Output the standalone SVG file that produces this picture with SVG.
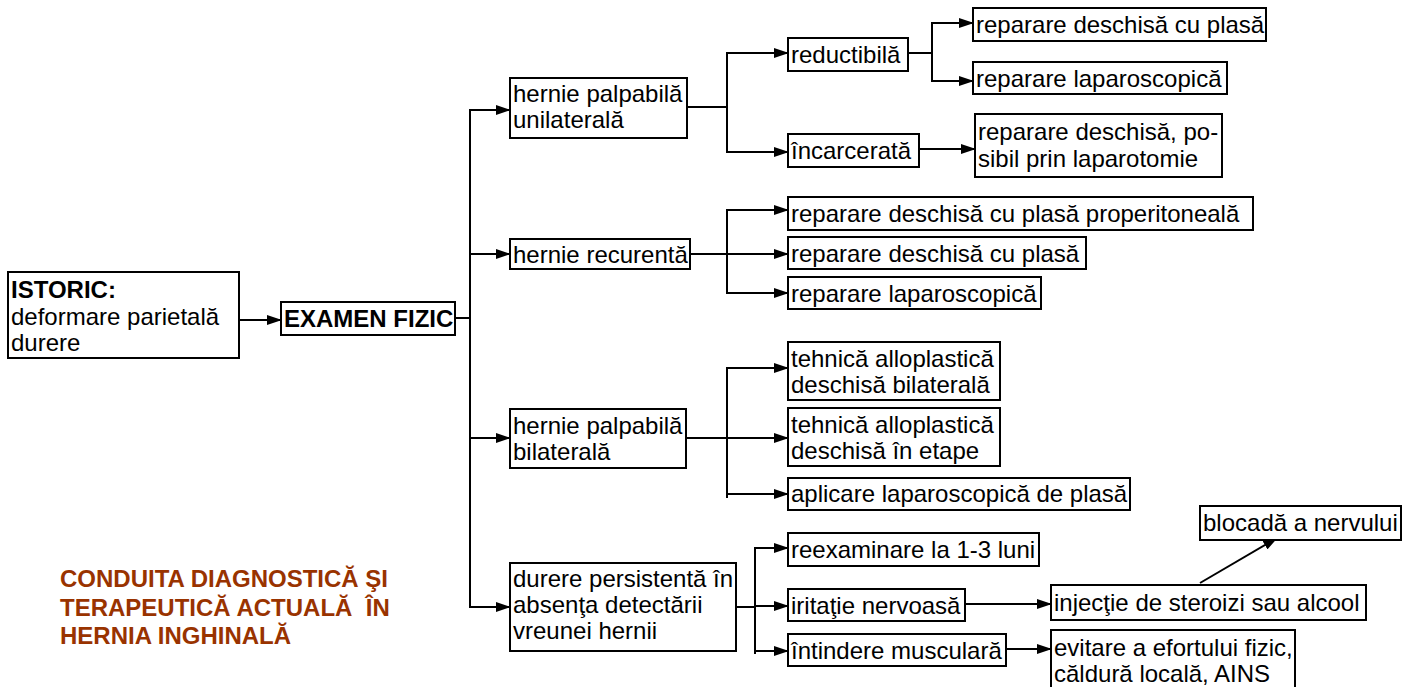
<svg xmlns="http://www.w3.org/2000/svg" width="1417" height="687" viewBox="0 0 1417 687">
  <defs>
    <marker id="arr" markerUnits="userSpaceOnUse" markerWidth="15" markerHeight="10" refX="14" refY="5" orient="auto">
      <path d="M0,0 L15,5 L0,10 z" fill="#000"/>
    </marker>
    <style>
      .box { fill: #fff; stroke: #000; stroke-width: 2; }
      .t { font-family: "Liberation Sans", Arial, sans-serif; font-size: 24px; fill: #000; }
      .b { font-weight: bold; }
      .title { font-family: "Liberation Sans", Arial, sans-serif; font-size: 24px; font-weight: bold; fill: #993300; }
      .ln { fill: none; stroke: #000; stroke-width: 2; }
      .ar { fill: none; stroke: #000; stroke-width: 2; marker-end: url(#arr); }
    </style>
  </defs>
  <rect width="1417" height="687" fill="#fff"/>

  <!-- connectors -->
  <g id="connectors">
    <line class="ar" x1="239" y1="320" x2="281" y2="320"/>
    <polyline class="ln" points="455,318 470,318"/>
    <line class="ln" x1="470" y1="109" x2="470" y2="608"/>
    <line class="ar" x1="470" y1="110" x2="510" y2="110"/>
    <line class="ar" x1="470" y1="254" x2="510" y2="254"/>
    <line class="ar" x1="470" y1="438" x2="510" y2="438"/>
    <line class="ar" x1="470" y1="607" x2="510" y2="607"/>

    <!-- unilateral -->
    <line class="ln" x1="687" y1="107" x2="727" y2="107"/>
    <line class="ln" x1="727" y1="52" x2="727" y2="153"/>
    <line class="ar" x1="727" y1="53" x2="788" y2="53"/>
    <line class="ar" x1="727" y1="152" x2="788" y2="152"/>
    <line class="ln" x1="908" y1="53" x2="932" y2="53"/>
    <line class="ln" x1="932" y1="22" x2="932" y2="82"/>
    <line class="ar" x1="932" y1="23" x2="973" y2="23"/>
    <line class="ar" x1="932" y1="81" x2="973" y2="81"/>
    <line class="ar" x1="919" y1="149" x2="975" y2="149"/>

    <!-- recurrent -->
    <line class="ln" x1="690" y1="254" x2="727" y2="254"/>
    <line class="ln" x1="727" y1="209" x2="727" y2="294"/>
    <line class="ar" x1="727" y1="210" x2="788" y2="210"/>
    <line class="ar" x1="727" y1="254" x2="788" y2="254"/>
    <line class="ar" x1="727" y1="293" x2="788" y2="293"/>

    <!-- bilateral -->
    <line class="ln" x1="686" y1="438" x2="727" y2="438"/>
    <line class="ln" x1="727" y1="367" x2="727" y2="498"/>
    <line class="ar" x1="727" y1="368" x2="788" y2="368"/>
    <line class="ar" x1="727" y1="438" x2="788" y2="438"/>
    <line class="ar" x1="727" y1="494" x2="788" y2="494"/>

    <!-- persistent pain -->
    <line class="ln" x1="736" y1="607" x2="755" y2="607"/>
    <line class="ln" x1="755" y1="547" x2="755" y2="654"/>
    <line class="ar" x1="755" y1="548" x2="788" y2="548"/>
    <line class="ar" x1="755" y1="606" x2="788" y2="606"/>
    <line class="ar" x1="755" y1="651" x2="788" y2="651"/>
    <line class="ar" x1="965" y1="604" x2="1051" y2="604"/>
    <line class="ar" x1="1006" y1="649" x2="1051" y2="649"/>
    <line class="ar" x1="1200" y1="583" x2="1277" y2="538"/>
  </g>

  <g id="istoric">
    <rect class="box" x="8" y="272" width="231" height="86"/>
    <text class="t b" x="11" y="298">ISTORIC:</text>
    <text class="t" x="11" y="325">deformare parietală</text>
    <text class="t" x="11" y="351">durere</text>
  </g>
  <g id="examen">
    <rect class="box" x="281" y="302" width="174" height="33"/>
    <text class="t b" x="284" y="327">EXAMEN FIZIC</text>
  </g>

  <g id="unilateral">
    <rect class="box" x="510" y="78" width="177" height="60"/>
    <text class="t" x="513" y="102">hernie palpabilă</text>
    <text class="t" x="513" y="128">unilaterală</text>
  </g>
  <g id="reductibila">
    <rect class="box" x="788" y="38" width="120" height="33"/>
    <text class="t" x="791" y="63">reductibilă</text>
  </g>
  <g id="incarcerata">
    <rect class="box" x="788" y="134" width="131" height="33"/>
    <text class="t" x="791" y="159">încarcerată</text>
  </g>
  <g id="red-deschisa">
    <rect class="box" x="973" y="8" width="293" height="33"/>
    <text class="t" x="976" y="33">reparare deschisă cu plasă</text>
  </g>
  <g id="red-laparoscopica">
    <rect class="box" x="973" y="62" width="254" height="32"/>
    <text class="t" x="976" y="87">reparare laparoscopică</text>
  </g>
  <g id="inc-deschisa">
    <rect class="box" x="975" y="114" width="247" height="63"/>
    <text class="t" x="978" y="140">reparare deschisă, po-</text>
    <text class="t" x="978" y="167">sibil prin laparotomie</text>
  </g>

  <g id="recurenta">
    <rect class="box" x="510" y="239" width="180" height="30"/>
    <text class="t" x="513" y="263">hernie recurentă</text>
  </g>
  <g id="rec-properitoneala">
    <rect class="box" x="788" y="197" width="465" height="33"/>
    <text class="t" x="791" y="222">reparare deschisă cu plasă properitoneală</text>
  </g>
  <g id="rec-deschisa">
    <rect class="box" x="788" y="237" width="298" height="32"/>
    <text class="t" x="791" y="262">reparare deschisă cu plasă</text>
  </g>
  <g id="rec-laparoscopica">
    <rect class="box" x="788" y="277" width="253" height="32"/>
    <text class="t" x="791" y="302">reparare laparoscopică</text>
  </g>

  <g id="bilaterala">
    <rect class="box" x="510" y="409" width="176" height="59"/>
    <text class="t" x="513" y="434">hernie palpabilă</text>
    <text class="t" x="513" y="460">bilaterală</text>
  </g>
  <g id="bil-deschisa">
    <rect class="box" x="788" y="342" width="212" height="58"/>
    <text class="t" x="791" y="367">tehnică alloplastică</text>
    <text class="t" x="791" y="393">deschisă bilaterală</text>
  </g>
  <g id="bil-etape">
    <rect class="box" x="788" y="408" width="212" height="58"/>
    <text class="t" x="791" y="433">tehnică alloplastică</text>
    <text class="t" x="791" y="459">deschisă în etape</text>
  </g>
  <g id="bil-laparoscopica">
    <rect class="box" x="788" y="478" width="342" height="32"/>
    <text class="t" x="791" y="502">aplicare laparoscopică de plasă</text>
  </g>

  <g id="durere">
    <rect class="box" x="510" y="563" width="226" height="88"/>
    <text class="t" x="513" y="587">durere persistentă în</text>
    <text class="t" x="513" y="613">absenţa detectării</text>
    <text class="t" x="513" y="639">vreunei hernii</text>
  </g>
  <g id="reexaminare">
    <rect class="box" x="788" y="533" width="251" height="33"/>
    <text class="t" x="791" y="558">reexaminare la 1-3 luni</text>
  </g>
  <g id="iritatie">
    <rect class="box" x="788" y="589" width="177" height="32"/>
    <text class="t" x="791" y="614">iritaţie nervoasă</text>
  </g>
  <g id="intindere">
    <rect class="box" x="788" y="634" width="218" height="32"/>
    <text class="t" x="791" y="659">întindere musculară</text>
  </g>
  <g id="injectie">
    <rect class="box" x="1051" y="585" width="315" height="35"/>
    <text class="t" x="1054" y="611">injecţie de steroizi sau alcool</text>
  </g>
  <g id="evitare">
    <rect class="box" x="1051" y="630" width="244" height="62"/>
    <text class="t" x="1054" y="656">evitare a efortului fizic,</text>
    <text class="t" x="1054" y="682">căldură locală, AINS</text>
  </g>
  <g id="blocada">
    <rect class="box" x="1200" y="506" width="201" height="34"/>
    <text class="t" x="1203" y="531">blocadă a nervului</text>
  </g>

  <g id="titlu">
    <text class="title" x="60" y="587">CONDUITA DIAGNOSTICĂ ŞI</text>
    <text class="title" x="60" y="616" xml:space="preserve">TERAPEUTICĂ ACTUALĂ  ÎN</text>
    <text class="title" x="60" y="644">HERNIA INGHINALĂ</text>
  </g>
</svg>
